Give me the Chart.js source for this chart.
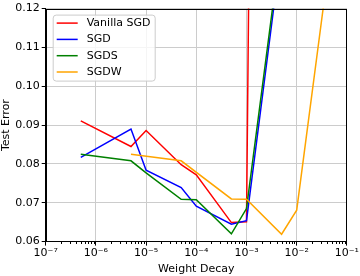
<!DOCTYPE html>
<html>
<head>
<meta charset="utf-8">
<script src="https://cdn.jsdelivr.net/npm/chart.js@4.4.0/dist/chart.umd.min.js"></script>
<style>
    body { margin: 0; background: #fff; }
</style>
</head>
<body>
<canvas id="grafica" width="360" height="276"></canvas>
<script>
// valores
const decaysSGD = [5e-7, 5e-6, 1e-5, 5e-5, 1e-4, 5e-4, 1e-3, 5e-3];
const decaysSGDW = [5e-6, 5e-5, 5e-4, 1e-3, 5e-3, 1e-2, 5e-2];
const vanillaSGD = [0.0911, 0.0845, 0.0886, 0.0798, 0.0772, 0.0649, 0.0651, 1.0];
const sgd = [0.0817, 0.0890, 0.0784, 0.0739, 0.0691, 0.0645, 0.0654, 0.136];
const sgds = [0.0825, 0.0808, 0.0777, 0.0709, 0.0708, 0.0620, 0.0685, 0.138];
const sgdw = [0.0825, 0.0808, 0.0710, 0.0709, 0.0619, 0.0681, 0.137];
const xTicks = [1e-7, 1e-6, 1e-5, 1e-4, 1e-3, 1e-2, 1e-1];
const yTicks = [0.06, 0.07, 0.08, 0.09, 0.10, 0.11, 0.12];

const FUENTE = "'DejaVu Sans', sans-serif";
const sup = { '-': '\u207b', '0': '\u2070', '1': '\u00b9', '2': '\u00b2', '3': '\u00b3', '4': '\u2074',
    '5': '\u2075', '6': '\u2076', '7': '\u2077', '8': '\u2078', '9': '\u2079' };

function puntos(xs, ys) {
    return xs.map((x, i) => ({ x: x, y: ys[i] }));
}

function serie(label, xs, ys, color, orden) {
    return {
        label: label,
        data: puntos(xs, ys),
        borderColor: color,
        backgroundColor: color,
        borderWidth: 1.5,
        pointRadius: 0,
        tension: 0,
        order: orden,
    };
}

// marco negro, ticks menores y leyenda
const marco = {
    id: 'marco',
    afterDraw(chart) {
        const { ctx, chartArea: a, scales } = chart;
        ctx.save();
        ctx.strokeStyle = '#000';
        ctx.lineWidth = 1;
        const l = Math.round(a.left) + 0.5, t = Math.round(a.top) + 0.5;
        const r = Math.round(a.right) - 0.5, b = Math.round(a.bottom) - 0.5;
        ctx.strokeRect(l, t, r - l, b - t);

        ctx.beginPath();
        for (let e = -7; e < -1; e++) {
            for (let k = 2; k < 10; k++) {
                const px = Math.round(scales.x.getPixelForValue(k * Math.pow(10, e))) + 0.5;
                ctx.moveTo(px, b);
                ctx.lineTo(px, b + 2.5);
            }
        }
        ctx.stroke();

        // leyenda
        const lx = a.left + 7, ly = a.top + 6;
        ctx.beginPath();
        ctx.roundRect(lx + 0.5, ly + 0.5, 102, 66, 3);
        ctx.fillStyle = 'rgba(255,255,255,0.8)';
        ctx.fill();
        ctx.strokeStyle = '#cccccc';
        ctx.stroke();
        ctx.font = '11px ' + FUENTE;
        ctx.textBaseline = 'middle';
        chart.data.datasets.forEach((ds, i) => {
            const y = ly + 8.5 + i * 16.3;
            ctx.strokeStyle = ds.borderColor;
            ctx.lineWidth = 1.5;
            ctx.beginPath();
            ctx.moveTo(lx + 4, y);
            ctx.lineTo(lx + 25, y);
            ctx.stroke();
            ctx.fillStyle = '#000';
            ctx.fillText(ds.label, lx + 34, y);
        });
        ctx.restore();
    },
};

const ctx = document.getElementById('grafica').getContext('2d');

new Chart(ctx, {
    type: 'line',
    data: {
        datasets: [
            serie('Vanilla SGD', decaysSGD, vanillaSGD, '#ff0000', 3),
            serie('SGD', decaysSGD, sgd, '#0000ff', 2),
            serie('SGDS', decaysSGD, sgds, '#008000', 1),
            serie('SGDW', decaysSGDW, sgdw, '#ffa500', 0),
        ],
    },
    options: {
        responsive: false,
        animation: false,
        devicePixelRatio: 1,
        layout: {
            padding: { top: -4, right: 12, left: 0, bottom: 0 },
        },
        plugins: {
            legend: { display: false },
            tooltip: { enabled: false },
        },
        scales: {
            x: {
                type: 'logarithmic',
                min: 1e-7,
                max: 1e-1,
                afterBuildTicks: (scale) => {
                    scale.ticks = xTicks.map(v => ({ value: v }));
                },
                grid: {
                    color: '#cccccc',
                    tickColor: '#000',
                    tickLength: 4,
                },
                border: { color: '#000' },
                ticks: {
                    color: '#000',
                    padding: 1,
                    maxRotation: 0,
                    autoSkip: false,
                    font: { size: 11, family: FUENTE },
                    callback: (v) => '10' + String(Math.round(Math.log10(v))).split('').map(c => sup[c]).join(''),
                },
                title: {
                    display: true,
                    text: 'Weight Decay',
                    color: '#000',
                    padding: { top: 2, bottom: 0 },
                    font: { size: 11, family: FUENTE },
                },
            },
            y: {
                min: 0.06,
                max: 0.12,
                afterBuildTicks: (scale) => {
                    scale.ticks = yTicks.map(v => ({ value: v }));
                },
                grid: {
                    color: '#cccccc',
                    tickColor: '#000',
                    tickLength: 4,
                },
                border: { color: '#000' },
                ticks: {
                    color: '#000',
                    padding: 2,
                    font: { size: 11, family: FUENTE },
                    callback: (v) => v.toFixed(2),
                },
                title: {
                    display: true,
                    text: 'Test Error',
                    color: '#000',
                    padding: { top: 0, bottom: 0 },
                    font: { size: 11, family: FUENTE },
                },
            },
        },
    },
    plugins: [marco],
});
</script>
</body>
</html>
